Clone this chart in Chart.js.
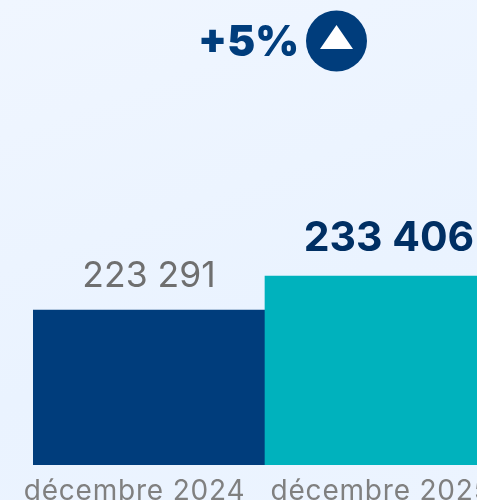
<!DOCTYPE html>
<html><head><meta charset="utf-8">
<script src="https://cdn.jsdelivr.net/npm/chart.js@4"></script>
<style>
html,body{margin:0;padding:0;width:477px;height:500px;overflow:hidden;background:linear-gradient(160deg,#f0f6ff 0%,#eaf3ff 60%,#ecf4ff 100%);}
#w{position:relative;width:477px;height:500px;overflow:hidden}
canvas{position:absolute;left:0;top:0}
</style></head><body><div id="w"><canvas id="c" width="497" height="500" style="width:497px;height:500px"></canvas></div>
<script>
const categories=["décembre 2024","décembre 2025"];
const values=[223291,233406];
const valueLabels=["223 291","233 406"];
const barColors=["#003d7c","#00b2bd"];
const changeLabel="+5%";
const labelPlugin={id:"labels",
 beforeDraw(chart){chart.ctx.letterSpacing="0.8px";},
 afterDatasetsDraw(chart){
  const ctx=chart.ctx,meta=chart.getDatasetMeta(0);
  ctx.save();ctx.letterSpacing="0px";ctx.textAlign="center";ctx.textBaseline="alphabetic";
  ctx.fillStyle="#6f6f6f";ctx.font="400 35.5px Inter";
  ctx.fillText(valueLabels[0],149,meta.data[0].y-23);
  ctx.fillStyle="#002f63";ctx.font="700 41px Inter";
  ctx.fillText(valueLabels[1],389,meta.data[1].y-25);
  ctx.fillStyle="#003d7c";ctx.font="900 42px Inter";ctx.textAlign="right";
  ctx.fillText(changeLabel,299,56);
  ctx.beginPath();ctx.arc(336.5,41,30.5,0,Math.PI*2);ctx.fill();
  ctx.fillStyle="#fff";ctx.beginPath();ctx.moveTo(336.5,25);ctx.lineTo(353,49);ctx.lineTo(320,49);ctx.closePath();ctx.fill();
  ctx.restore();
}};
new Chart(document.getElementById("c"),{type:"bar",
 data:{labels:categories,datasets:[{data:values,backgroundColor:barColors,barPercentage:1,categoryPercentage:1}]},
 plugins:[labelPlugin],
 options:{responsive:false,animation:false,
  layout:{padding:{left:33,right:0,top:0,bottom:0}},
  plugins:{legend:{display:false},tooltip:{enabled:false}},
  scales:{
   y:{display:false,min:177180,max:315516},
   x:{grid:{display:false},border:{display:false},
      afterFit(s){
        s.height=35;
        const orig=s._computeLabelItems.bind(s);
        s._computeLabelItems=function(ca){
          const items=orig(ca);
          if(items[0]){const t=items[0].options.translation;items[0].options.translation=[t[0]-14.5,t[1]];}
          return items;
        };
      },
      ticks:{color:"#808080",font:{family:"Inter",size:28,weight:"400"},maxRotation:0,autoSkip:false,padding:2}}
  }}});
</script></body></html>
